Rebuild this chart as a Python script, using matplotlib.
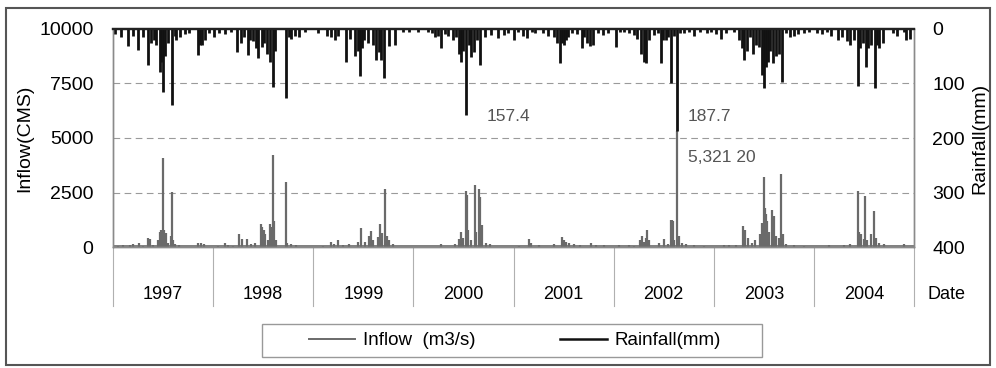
import matplotlib.pyplot as plt
from matplotlib.lines import Line2D
from matplotlib.patches import Rectangle
import matplotlib.transforms as mtransforms

plt.rcParams['font.family'] = ['Liberation Sans', 'DejaVu Sans']

years = [1997, 1998, 1999, 2000, 2001, 2002, 2003, 2004]

# daily rainfall events (decimal year, mm)
rain_t = [
    1997.02, 1997.08, 1997.15, 1997.20, 1997.25, 1997.30, 1997.35, 1997.38, 1997.41, 1997.43,
    1997.47, 1997.48, 1997.50, 1997.52, 1997.55, 1997.59, 1997.62, 1997.63, 1997.67, 1997.72,
    1997.76, 1997.85, 1997.87, 1997.89, 1997.92, 1997.96,
    1998.01, 1998.06, 1998.12, 1998.18, 1998.24, 1998.28, 1998.31, 1998.35, 1998.37, 1998.40,
    1998.43, 1998.45, 1998.49, 1998.51, 1998.54, 1998.57, 1998.60, 1998.62, 1998.73, 1998.76,
    1998.78, 1998.82, 1998.86, 1998.92,
    1999.05, 1999.14, 1999.18, 1999.22, 1999.25, 1999.33, 1999.37, 1999.42, 1999.45, 1999.47,
    1999.49, 1999.51, 1999.55, 1999.60, 1999.63, 1999.66, 1999.68, 1999.71, 1999.76, 1999.82,
    1999.90, 1999.96,
    2000.05, 2000.15, 2000.19, 2000.22, 2000.25, 2000.28, 2000.32, 2000.35, 2000.40, 2000.43,
    2000.46, 2000.48, 2000.50, 2000.53, 2000.56, 2000.58, 2000.61, 2000.64, 2000.67, 2000.71,
    2000.77, 2000.84, 2000.90, 2000.94,
    2001.00, 2001.04, 2001.09, 2001.13, 2001.18, 2001.21, 2001.29, 2001.34, 2001.40, 2001.43,
    2001.46, 2001.48, 2001.50, 2001.52, 2001.54, 2001.58, 2001.63, 2001.68, 2001.70, 2001.73,
    2001.76, 2001.79, 2001.84, 2001.89, 2001.94,
    2002.02, 2002.06, 2002.10, 2002.15, 2002.20, 2002.23, 2002.27, 2002.30, 2002.32, 2002.35,
    2002.40, 2002.44, 2002.47, 2002.49, 2002.52, 2002.54, 2002.57, 2002.60, 2002.635, 2002.66,
    2002.70, 2002.75, 2002.80, 2002.86, 2002.93, 2002.97,
    2003.02, 2003.07, 2003.12, 2003.20, 2003.25, 2003.28, 2003.30, 2003.33, 2003.36, 2003.39,
    2003.42, 2003.45, 2003.48, 2003.50, 2003.52, 2003.54, 2003.56, 2003.59, 2003.62, 2003.65,
    2003.68, 2003.72, 2003.76, 2003.80, 2003.84, 2003.90, 2003.95,
    2004.03, 2004.08, 2004.13, 2004.17, 2004.24, 2004.28, 2004.33, 2004.36, 2004.40, 2004.44,
    2004.46, 2004.49, 2004.52, 2004.54, 2004.57, 2004.61, 2004.63, 2004.65, 2004.69, 2004.79,
    2004.83, 2004.90, 2004.92, 2004.96,
]
rain_mm = [
    10, 15, 32, 12, 38, 15, 66, 26, 20, 30,
    78, 60, 115, 50, 25, 139, 12, 20, 15, 10,
    8, 48, 30, 29, 20, 8,
    14, 8, 10, 6, 42, 25, 15, 48, 20, 22,
    35, 54, 33, 25, 45, 60, 106, 40, 127, 14,
    18, 12, 14, 5,
    8, 12, 15, 20, 12, 60, 18, 50, 40, 87,
    35, 20, 25, 30, 57, 42, 57, 90, 32, 29,
    5, 5,
    6, 5, 8, 14, 12, 35, 10, 12, 20, 15,
    45, 60, 40, 157.4, 30, 51, 42, 20, 66, 14,
    11, 17, 11, 8,
    20, 5, 12, 17, 5, 8, 8, 12, 15, 25,
    63, 25, 30, 20, 14, 8, 10, 35, 15, 26,
    32, 29, 8, 11, 8,
    33, 6, 5, 8, 11, 18, 45, 60, 63, 20,
    11, 8, 63, 20, 21, 15, 100, 12, 187.7, 8,
    8, 6, 12, 5, 8, 5,
    10, 18, 8, 6, 20, 35, 57, 40, 15, 45,
    30, 33, 84, 109, 70, 60, 40, 62, 50, 45,
    97, 8, 14, 12, 10, 8, 5,
    8, 10, 5, 12, 20, 15, 22, 30, 20, 105,
    35, 26, 69, 35, 30, 109, 30, 35, 25, 8,
    12, 5, 20, 18,
]

# daily inflow events (decimal year, CMS)
inflow_t = [
    1997.05, 1997.10, 1997.17, 1997.20, 1997.26, 1997.30, 1997.35, 1997.37, 1997.40, 1997.45,
    1997.47, 1997.48, 1997.49, 1997.50, 1997.51, 1997.53, 1997.55, 1997.58, 1997.59, 1997.60,
    1997.62, 1997.66, 1997.85, 1997.88, 1997.91,
    1998.05, 1998.12, 1998.15, 1998.20, 1998.26, 1998.29, 1998.34, 1998.38, 1998.42, 1998.48,
    1998.49, 1998.51, 1998.52, 1998.55, 1998.57, 1998.59, 1998.60, 1998.61, 1998.63, 1998.73,
    1998.74, 1998.78, 1998.83,
    1999.10, 1999.18, 1999.21, 1999.25, 1999.30, 1999.36, 1999.45, 1999.48, 1999.52, 1999.56,
    1999.58, 1999.60, 1999.65, 1999.67, 1999.69, 1999.72, 1999.74, 1999.76, 1999.80,
    2000.28, 2000.42, 2000.46, 2000.48, 2000.50, 2000.53, 2000.54, 2000.55, 2000.58, 2000.62,
    2000.63, 2000.66, 2000.67, 2000.69, 2000.72, 2000.76,
    2001.05, 2001.15, 2001.17, 2001.25, 2001.40, 2001.48, 2001.50, 2001.52, 2001.55, 2001.60,
    2001.66, 2001.77, 2001.82, 2001.90,
    2002.05, 2002.15, 2002.20, 2002.26, 2002.28, 2002.30, 2002.32, 2002.33, 2002.35, 2002.45,
    2002.50, 2002.54, 2002.57, 2002.58, 2002.59, 2002.60, 2002.635, 2002.65, 2002.68, 2002.72,
    2002.80, 2002.90,
    2003.10, 2003.15, 2003.22, 2003.29, 2003.31, 2003.34, 2003.38, 2003.41, 2003.46, 2003.48,
    2003.50, 2003.51, 2003.52, 2003.53, 2003.55, 2003.58, 2003.60, 2003.62, 2003.65, 2003.67,
    2003.69, 2003.72, 2003.80, 2003.90,
    2004.15, 2004.30, 2004.36, 2004.44, 2004.45, 2004.47, 2004.50, 2004.51, 2004.53, 2004.57,
    2004.60, 2004.62, 2004.65, 2004.70, 2004.90,
]
inflow_cms = [
    60, 80, 80, 150, 180, 60, 430, 350, 100, 300,
    700, 800, 750, 4100, 780, 650, 200, 500, 2520, 300,
    150, 80, 180, 180, 120,
    50, 180, 100, 60, 610, 350, 380, 150, 200, 1040,
    900, 800, 600, 300, 1040, 900, 4200, 1200, 300, 2990,
    200, 150, 80,
    60, 250, 150, 300, 100, 120, 250, 890, 250, 500,
    720, 300, 450, 1070, 650, 2650, 500, 300, 150,
    150, 150, 350, 690, 400, 2570, 2400, 800, 300, 2860,
    700, 2680, 2300, 1000, 200, 150,
    60, 380, 200, 80, 150, 460, 300, 250, 200, 120,
    100, 200, 100, 80,
    80, 100, 60, 300, 490, 250, 400, 770, 300, 200,
    350, 150, 1220, 1250, 1200, 300, 5321.2, 500, 200, 120,
    80, 60,
    80, 80, 100, 950, 800, 400, 200, 300, 600, 1100,
    3200, 1800, 1500, 1200, 700, 1680, 1400, 500, 400, 3330,
    600, 150, 80, 60,
    80, 100, 120, 2570, 700, 600, 350, 2330, 300, 600,
    1650, 400, 200, 150, 120,
]

inflow_color = '#6a6a6a'
rain_color = '#111111'
frame_color = '#8a8a8a'

fig = plt.figure(figsize=(9.96, 3.68), dpi=100)
ax = fig.add_axes([0.1135, 0.3288, 0.8042, 0.5924])
ax2 = ax.twinx()

ax.vlines(inflow_t, 0, inflow_cms, color=inflow_color, linewidth=1.6)
ax.axhline(40, color=inflow_color, linewidth=1.2)
ax2.vlines(rain_t, 0, rain_mm, color=rain_color, linewidth=2.0)

ax.set_xlim(1997, 2005)
ax.set_ylim(0, 10000)
ax.set_yticks([0, 2500, 5000, 7500, 10000])
ax2.set_ylim(400, 0)
ax2.set_yticks([0, 100, 200, 300, 400])

for y in [2500, 5000, 7500]:
    ax.axhline(y, color='#9a9a9a', linewidth=0.8, linestyle=(0, (6, 4)), zorder=0)

for a in (ax, ax2):
    for s in a.spines.values():
        s.set_color(frame_color)
        s.set_linewidth(1.0)
    a.spines['top'].set_color('#222222')
    a.spines['top'].set_linewidth(1.6)
ax.tick_params(axis='y', length=0, pad=14, labelsize=14)
ax2.tick_params(axis='y', length=0, pad=13, labelsize=14)
ax.set_xticks([])

ax.set_ylabel('Inflow(CMS)', fontsize=14, labelpad=4)
ax2.set_ylabel('Rainfall(mm)', fontsize=14, labelpad=5)

# year separators and labels under the axis
trans = mtransforms.blended_transform_factory(ax.transData, ax.transAxes)
for yr in years + [2005]:
    ax.plot([yr, yr], [0, -0.27], transform=trans, color='#b0b0b0',
            linewidth=0.8, clip_on=False)
for yr in years:
    ax.text(yr + 0.5, -0.22, str(yr), transform=trans, ha='center', va='center',
            fontsize=13)
ax.text(1.017, -0.22, 'Date', transform=ax.transAxes, ha='left', va='center',
        fontsize=13)

# value labels
ax2.text(2000.73, 160, '157.4', color='#555555', fontsize=12.5, va='center')
ax2.text(2002.74, 160, '187.7', color='#555555', fontsize=12.5, va='center')
ax.text(2002.74, 4100, '5,321 20', color='#555555', fontsize=12.5, va='center')

# legend with its own box
fig.patches.append(Rectangle((262 / 996, 1 - 357 / 368), 500 / 996, 33 / 368,
                             transform=fig.transFigure, fill=False,
                             edgecolor='#999999', linewidth=1.0))
handles = [Line2D([], [], color=inflow_color, linewidth=1.4),
           Line2D([], [], color=rain_color, linewidth=1.8)]
fig.legend(handles, ['Inflow  (m3/s)', 'Rainfall(mm)'], ncol=2,
           loc='center', bbox_to_anchor=(0.5166, 0.0747), frameon=False,
           fontsize=13.5, handlelength=2.5, handletextpad=0.4,
           columnspacing=4.5, borderpad=0.0)

fig.patches.append(Rectangle((0.006, 0.008), 0.988, 0.97, transform=fig.transFigure,
                             fill=False, edgecolor='#555555', linewidth=1.5))

fig.savefig('out.png', dpi=100)
